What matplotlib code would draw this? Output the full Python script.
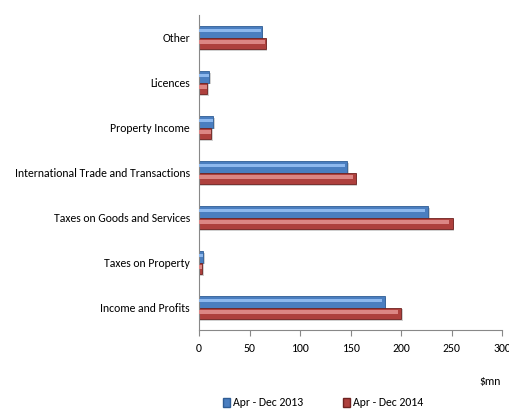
import matplotlib
matplotlib.use("Agg")
import matplotlib.pyplot as plt
import numpy as np
from matplotlib import font_manager
from matplotlib.patches import Patch

categories = ["Income and Profits", "Taxes on Property", "Taxes on Goods and Services",
              "International Trade and Transactions", "Property Income", "Licences", "Other"]
values_2013 = [184, 4, 227, 147, 14, 10, 62]
values_2014 = [200, 3, 251, 155, 12, 8, 66]
series_names = ["Apr - Dec 2013", "Apr - Dec 2014"]
xticks = [0, 50, 100, 150, 200, 250, 300]

names = {f.name for f in font_manager.fontManager.ttflist}
fam = "Liberation Sans"
for cand in ["Carlito", "Open Sans Condensed", "Barlow Semi Condensed", "Archivo Narrow"]:
    if cand in names:
        fam = cand
        break
plt.rcParams['font.family'] = [fam, 'DejaVu Sans']

fig = plt.figure(figsize=(5.09, 4.09), dpi=100)
t = fig.text(0, 0, categories[3], fontsize=10)
fig.canvas.draw()
w = t.get_window_extent().width
t.remove()
fs = 10 * 178 / w

ax = fig.add_axes([199/509, 1-330/409, 303/509, 315/409])

y = np.arange(len(categories))
h = 0.255
blue, blue_hi, blue_ed = "#4A7EC0", "#8DB8EE", "#2E5C94"
red, red_hi, red_ed = "#AE403D", "#DC8684", "#6E2220"

ax.barh(y + h/2 - 0.04, np.array(values_2013) + 1.5, height=h, left=0, color="#d0d0d0", zorder=1)
ax.barh(y - h/2 - 0.04, np.array(values_2014) + 1.5, height=h, left=0, color="#d0d0d0", zorder=1)
ax.barh(y + h/2, values_2013, height=h, color=blue, edgecolor=blue_ed, linewidth=0.6, zorder=2)
ax.barh(y - h/2, values_2014, height=h, color=red, edgecolor=red_ed, linewidth=0.6, zorder=2)
ax.barh(y + h/2 + h*0.12, np.array(values_2013) * 0.985, height=h*0.3, color=blue_hi, zorder=3, linewidth=0)
ax.barh(y - h/2 + h*0.12, np.array(values_2014) * 0.985, height=h*0.3, color=red_hi, zorder=3, linewidth=0)

ax.set_xlim(0, 300)
ax.set_ylim(-0.5, len(categories) - 0.5)
ax.set_yticks(y)
ax.set_yticklabels(categories, fontsize=fs)
ax.set_xticks(xticks)
ax.set_xticklabels([str(t) for t in xticks], fontsize=fs)
ax.tick_params(axis='y', length=0, pad=6.5)
ax.tick_params(axis='x', length=4, color="#888888", pad=5, direction='out')
for s in ["top", "right"]:
    ax.spines[s].set_visible(False)
for s in ["left", "bottom"]:
    ax.spines[s].set_color("#888888")
    ax.spines[s].set_linewidth(0.8)

fig.text(490/509, 1-381/409, "$mn", fontsize=fs, ha="center", va="center")

handles = [Patch(facecolor=blue, edgecolor=blue_ed), Patch(facecolor=red, edgecolor=red_ed)]
fig.legend(handles, series_names, loc="center", bbox_to_anchor=(323/509, 1-403/409), ncol=2,
           frameon=False, fontsize=fs, handlelength=0.6, handleheight=0.7, handletextpad=0.2,
           columnspacing=3.4)

fig.savefig("out.png", dpi=100)
